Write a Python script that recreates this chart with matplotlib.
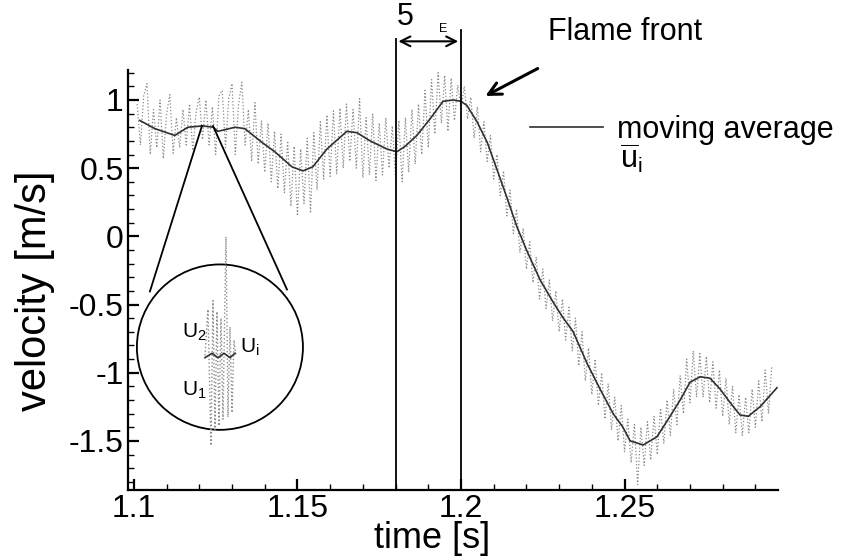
import numpy as np
import matplotlib
matplotlib.use("Agg")
import matplotlib.pyplot as plt
from matplotlib.patches import Ellipse
from matplotlib.ticker import MultipleLocator, FixedLocator

plt.rcParams['font.family'] = ['Liberation Sans', 'DejaVu Sans']
plt.rcParams['mathtext.fontset'] = 'custom'
plt.rcParams['mathtext.rm'] = 'Liberation Sans'
plt.rcParams['mathtext.it'] = 'Liberation Sans:italic'
plt.rcParams['axes.unicode_minus'] = False

# --- raw velocity signal, sampled every 1 ms from t0 ---
t0 = 1.101
dt = 0.001
u_raw = [
    0.97, 0.67, 1.03, 1.12, 0.60, 0.93, 0.65, 1.00, 0.57, 0.90,
    1.04, 0.61, 0.87, 0.65, 0.93, 0.67, 0.97, 0.63, 0.91, 1.02,
    0.71, 1.00, 0.67, 0.95, 0.60, 1.03, 1.07, 0.65, 1.01, 1.12,
    0.60, 0.97, 1.13, 0.67, 0.93, 0.55, 0.98, 0.53, 0.85, 0.47,
    0.83, 0.40, 0.77, 0.35, 0.75, 0.32, 0.70, 0.22, 0.66, 0.15,
    0.64, 0.24, 0.72, 0.17, 0.76, 0.34, 0.84, 0.42, 0.89, 0.44,
    0.92, 0.46, 0.94, 0.50, 0.97, 0.55, 0.93, 0.50, 1.01, 0.43,
    0.87, 0.45, 0.90, 0.41, 0.83, 0.45, 0.87, 0.50, 0.81, 0.43,
    0.85, 0.40, 0.87, 0.47, 0.93, 0.53, 0.97, 0.60, 1.07, 0.65,
    1.15, 0.75, 1.20, 0.83, 1.18, 0.77, 1.16, 0.85, 1.11, 0.93,
    1.10, 0.86, 1.02, 0.72, 0.95, 0.62, 0.84, 0.55, 0.74, 0.42,
    0.60, 0.30, 0.48, 0.15, 0.34, 0.02, 0.20, -0.12, 0.06, -0.24,
    -0.04, -0.34, -0.15, -0.46, -0.24, -0.53, -0.32, -0.62, -0.40, -0.70,
    -0.46, -0.76, -0.52, -0.84, -0.60, -0.95, -0.70, -1.06, -0.82, -1.16,
    -0.90, -1.24, -1.00, -1.34, -1.08, -1.42, -1.18, -1.50, -1.24, -1.58,
    -1.34, -1.66, -1.38, -1.82, -1.40, -1.68, -1.36, -1.64, -1.32, -1.60,
    -1.26, -1.52, -1.20, -1.46, -1.12, -1.38, -1.02, -1.30, -0.90, -1.22,
    -0.84, -1.18, -0.86, -1.18, -0.88, -1.22, -0.92, -1.26, -0.98, -1.32,
    -1.04, -1.38, -1.10, -1.44, -1.16, -1.46, -1.18, -1.44, -1.12, -1.40,
    -1.06, -1.36, -0.98, -1.30, -0.95,
]
t_raw = t0 + dt * np.arange(len(u_raw))

# --- moving average ---
t_avg = [1.1018, 1.1064, 1.1125, 1.1165, 1.1211, 1.1242, 1.1257, 1.1309, 1.1339,
         1.1391, 1.1431, 1.1483, 1.1517, 1.1547, 1.1590, 1.1651, 1.1682, 1.1722,
         1.1774, 1.1804, 1.1829, 1.1865, 1.1905, 1.1945, 1.1976, 1.2000, 1.2018,
         1.2049, 1.2080, 1.2110, 1.2141, 1.2171, 1.2202, 1.2242, 1.2281, 1.2310,
         1.2343, 1.2385, 1.2425, 1.2465, 1.2495, 1.2517, 1.2557, 1.2599, 1.2639,
         1.2670, 1.2700, 1.2731, 1.2761, 1.2792, 1.2823, 1.2853, 1.2878, 1.2914,
         1.2966]
u_avg = [0.85, 0.79, 0.74, 0.80, 0.81, 0.80, 0.77, 0.80, 0.79,
         0.69, 0.62, 0.51, 0.48, 0.51, 0.64, 0.77, 0.76, 0.70,
         0.64, 0.62, 0.66, 0.74, 0.86, 0.99, 1.00, 0.99, 0.96,
         0.84, 0.69, 0.49, 0.28, 0.07, -0.11, -0.32, -0.48, -0.59,
         -0.70, -0.93, -1.12, -1.30, -1.40, -1.50, -1.53, -1.47, -1.32,
         -1.20, -1.07, -1.03, -1.04, -1.12, -1.22, -1.31, -1.32, -1.25,
         -1.11]

# --- magnified detail shown inside the circle (local units 0..1) ---
x_zoom = [0.125, 0.20, 0.275, 0.325, 0.375, 0.425, 0.475, 0.525,
          0.575, 0.65, 0.70, 0.75, 0.80, 0.85, 0.90]
u_zoom = [0.43, 0.64, 0.02, 0.68, 0.09, 0.63, 0.11, 0.60,
          0.14, 0.97, 0.15, 0.56, 0.17, 0.50, 0.43]
x_zoom_avg = [0.125, 0.30, 0.45, 0.60, 0.75, 0.875]
u_zoom_avg = [0.42, 0.44, 0.42, 0.44, 0.42, 0.44]

t_flame = [1.18, 1.20]

xticks = [1.1, 1.15, 1.2, 1.25]
xtick_labels = ['1.1', '1.15', '1.2', '1.25']
yticks = [-1.5, -1, -0.5, 0, 0.5, 1]
ytick_labels = ['-1.5', '-1', '-0.5', '0', '0.5', '1']

fig = plt.figure(figsize=(8.51, 5.58), dpi=100)
ax = fig.add_axes([0.1504, 0.1219, 0.7638, 0.7527])
ax.set_xlim(1.0982, 1.2969)
ax.set_ylim(-1.86, 1.22)

ax.plot(t_raw, u_raw, color='#8a8a8a', lw=0.9, ls=':')
ax.plot(t_avg, u_avg, color='#303030', lw=1.2, label='moving average')

# flame front window lines
ax.plot([t_flame[0], t_flame[0]], [-1.86, 1.45], color='black', lw=1.3, clip_on=False)
ax.plot([t_flame[1], t_flame[1]], [-1.86, 1.51], color='black', lw=1.3, clip_on=False)
ax.annotate('', xy=(t_flame[1], 1.43), xytext=(t_flame[0], 1.43),
            arrowprops=dict(arrowstyle='<->,head_length=0.7,head_width=0.35',
                            color='black', lw=1.5),
            annotation_clip=False)
ax.text(1.1829, 1.61, '5', fontsize=22, ha='center', va='center', clip_on=False)
ax.text(1.1945, 1.52, 'E', fontsize=9, ha='center', va='center', clip_on=False)

# flame front label
ax.text(1.2266, 1.50, 'Flame front', fontsize=22, ha='left', va='center', clip_on=False)
ax.annotate('', xy=(1.2067, 1.02), xytext=(1.2242, 1.24),
            arrowprops=dict(arrowstyle='->,head_length=0.9,head_width=0.45',
                            color='black', lw=2.2),
            annotation_clip=False)

# magnifier circle and its guide lines
ax.add_patch(Ellipse((1.1263, -0.8125), 0.05076, 1.213, fill=False,
                     edgecolor='black', lw=1.3))
ax.plot([1.1208, 1.1049], [0.809, -0.404], color='black', lw=1.3)
ax.plot([1.1242, 1.1468], [0.809, -0.39], color='black', lw=1.3)

# axes styling
for side in ['top', 'right']:
    ax.spines[side].set_visible(False)
for side in ['left', 'bottom']:
    ax.spines[side].set_linewidth(1.6)
ax.xaxis.set_major_locator(FixedLocator(xticks))
ax.set_xticklabels(xtick_labels)
ax.xaxis.set_minor_locator(MultipleLocator(0.01))
ax.yaxis.set_major_locator(FixedLocator(yticks))
ax.set_yticklabels(ytick_labels)
ax.yaxis.set_minor_locator(MultipleLocator(0.1))
ax.tick_params(which='major', direction='in', length=8, width=1.6,
               labelsize=23, pad=3, top=False, right=False)
ax.tick_params(which='minor', direction='in', length=4, width=1.0,
               top=False, right=False)
ax.set_xlabel('time [s]', fontsize=26)
ax.xaxis.set_label_coords(0.468, -0.075)
ax.set_ylabel('velocity [m/s]', fontsize=30)
ax.yaxis.set_label_coords(-0.112, 0.475)

leg = ax.legend(loc='center left', bbox_to_anchor=(0.618, 0.857), frameon=False,
                fontsize=22, handlelength=2.4, handletextpad=0.45,
                borderpad=0, borderaxespad=0)
ax.text(1.2486, 0.57, r'$\overline{\mathrm{u}}_\mathrm{i}$', fontsize=22,
        ha='left', va='center')

# inset detail
iax = fig.add_axes([0.235, 0.1935, 0.047, 0.394])
iax.set_xlim(0, 1)
iax.set_ylim(0, 1)
iax.axis('off')
iax.plot(x_zoom, u_zoom, color='#8a8a8a', lw=1.0, ls=':')
iax.plot(x_zoom_avg, u_zoom_avg, color='#303030', lw=1.2)

fig.text(0.2139, 0.405, r'U$_\mathrm{2}$', fontsize=15, ha='left', va='center')
fig.text(0.2139, 0.301, r'U$_\mathrm{1}$', fontsize=15, ha='left', va='center')
fig.text(0.282, 0.378, r'U$_\mathrm{i}$', fontsize=15, ha='left', va='center')

fig.savefig('out.png', dpi=100)
